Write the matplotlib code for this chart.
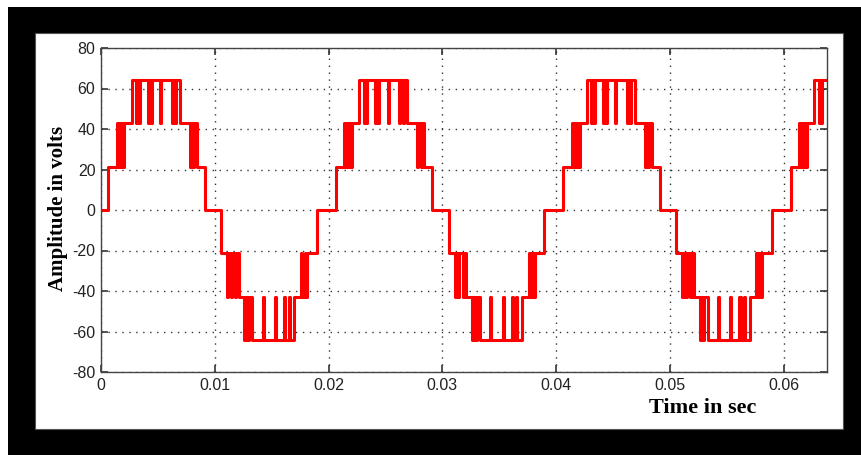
import numpy as np
import matplotlib
matplotlib.use("Agg")
from matplotlib import pyplot as plt
from matplotlib.patches import Rectangle

# one 50 Hz period: switching instants (ms) and the
# inverter level (in dc steps) held after each of them
edge_ms = [0.0, 0.64,
           1.38, 1.45, 1.60, 1.68, 1.85, 1.92, 2.05,
           2.70, 3.10, 3.20, 3.30, 3.40,
           4.10, 4.20, 4.35, 4.45,
           5.20, 5.30,
           6.20, 6.30, 6.50, 6.60,
           6.90,
           7.80, 7.90, 8.10, 8.20, 8.40,
           9.10,
           10.55,
           11.10, 11.20, 11.40, 11.50, 11.80, 11.90, 12.10,
           12.60, 12.70, 12.90, 13.00, 13.30,
           14.20, 14.30,
           15.30, 15.40,
           16.10, 16.20, 16.50, 16.60,
           17.00,
           17.60, 17.70, 17.90, 18.00, 18.10,
           18.95]
edge_level = [0, 1,
              2, 1, 2, 1, 2, 1, 2,
              3, 2, 3, 2, 3,
              2, 3, 2, 3,
              2, 3,
              2, 3, 2, 3,
              2,
              1, 2, 1, 2, 1,
              0,
              -1,
              -2, -1, -2, -1, -2, -1, -2,
              -3, -2, -3, -2, -3,
              -2, -3,
              -2, -3,
              -2, -3, -2, -3,
              -2,
              -1, -2, -1, -2, -1,
              0]
period_ms = 20.0
n_periods = 4
step_volts = 21.4

xticks = [0, 0.01, 0.02, 0.03, 0.04, 0.05, 0.06]
yticks = [-80, -60, -40, -20, 0, 20, 40, 60, 80]

plt.rcParams['axes.unicode_minus'] = False

t = []
v = []
for k in range(n_periods):
    for e, lv in zip(edge_ms, edge_level):
        t.append((e + k * period_ms) / 1000.0)
        v.append(lv * step_volts)
t = np.array(t)
v = np.array(v)

fig = plt.figure(figsize=(8.61, 4.55), dpi=100)
W, H = 861.0, 455.0
# black frame with white panel
fig.patches.append(Rectangle((8 / W, 0), 1 - 8 / W, 1 - 7 / H, transform=fig.transFigure,
                             facecolor='black', edgecolor='none', zorder=-10))
fig.patches.append(Rectangle((35 / W, (H - 429) / H), (843 - 35) / W, (429 - 33) / H,
                             transform=fig.transFigure, facecolor='white',
                             edgecolor='#555555', linewidth=0.8, zorder=-9))

ax = fig.add_axes([101 / W, (H - 372) / H, (827 - 101) / W, (372 - 48) / H])
ax.step(t, v, where='post', color='#ff0000', linewidth=2.2)
ax.set_xlim(0, 0.0638)
ax.set_ylim(-80, 80)
ax.set_xticks(xticks)
ax.set_xticklabels(['0', '0.01', '0.02', '0.03', '0.04', '0.05', '0.06'])
ax.set_yticks(yticks)
ax.set_yticklabels([str(y) for y in yticks])
ax.grid(True, linestyle=(0, (1, 4)), color='#333333', linewidth=1.0)
ax.tick_params(direction='in', length=5, width=1.2, color='#333333',
               top=True, right=True, labelsize=11.5, labelcolor='#222222', pad=4)
for tl in ax.get_xticklabels() + ax.get_yticklabels():
    tl.set_family('Liberation Sans')
for s in ax.spines.values():
    s.set_color('#444444')
    s.set_linewidth(1.0)

fig.text(703 / W, (H - 408) / H, 'Time in sec', family='Liberation Serif',
         fontweight='bold', fontsize=16, ha='center', va='center')
fig.text(58 / W, (H - 208) / H, 'Amplitude in volts', family='Liberation Serif',
         fontweight='bold', fontsize=15, ha='center', va='center', rotation=90)

fig.savefig('out.png', dpi=100)
